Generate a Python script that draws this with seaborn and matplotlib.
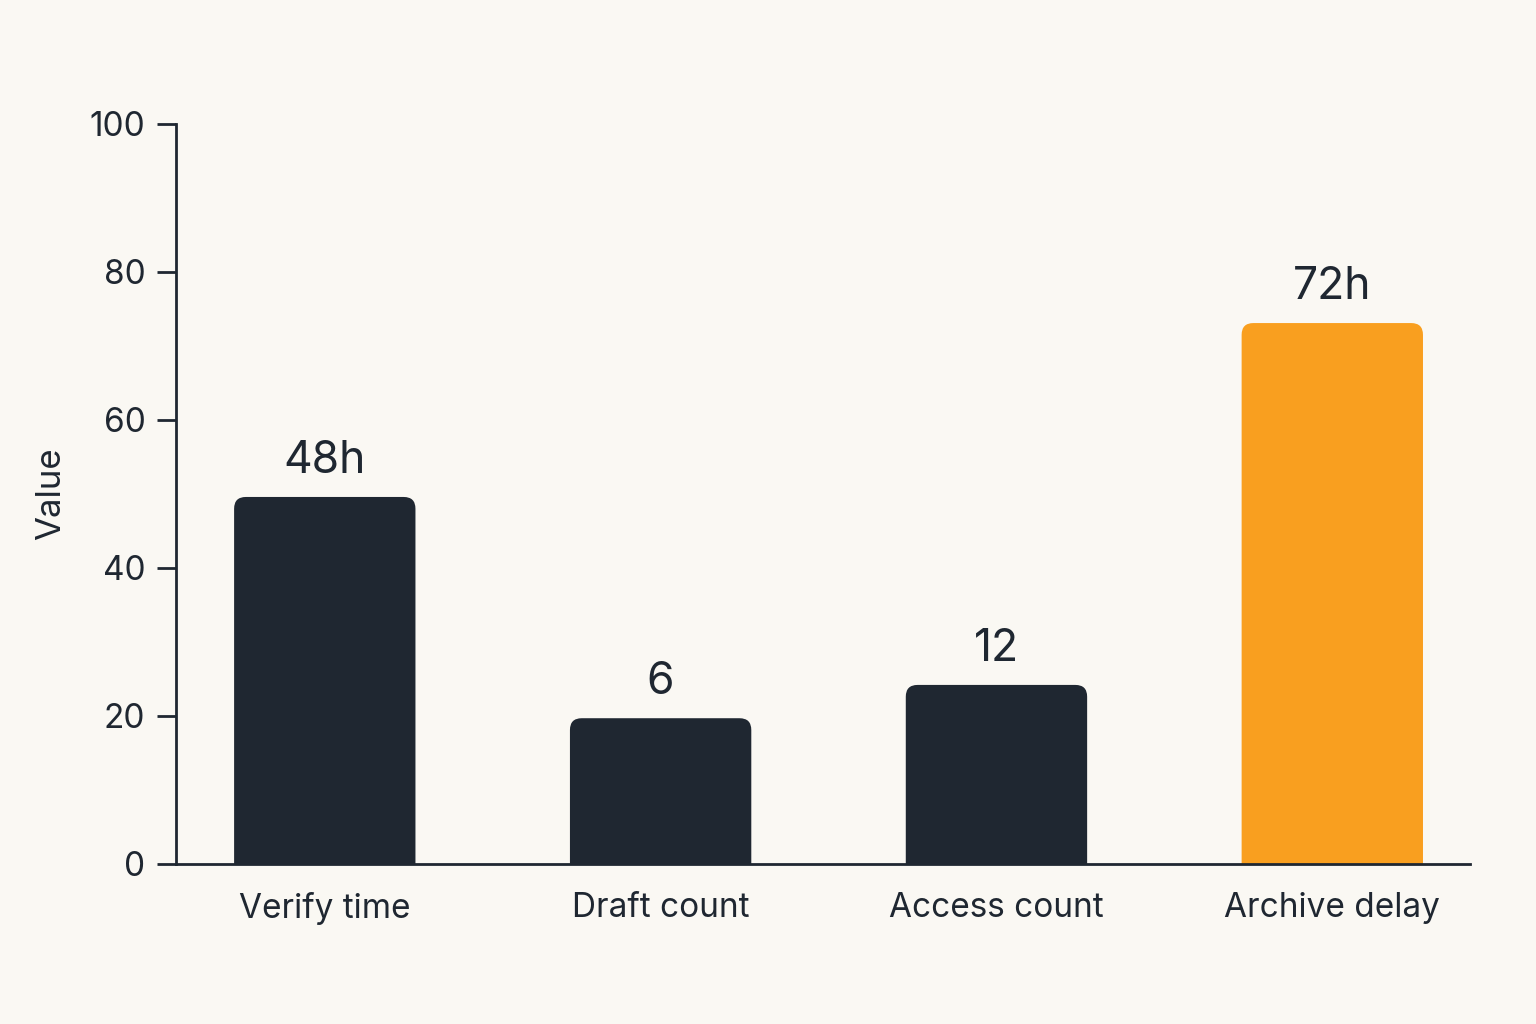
import matplotlib
matplotlib.use("Agg")
import matplotlib.pyplot as plt
import seaborn as sns
import pandas as pd
from matplotlib.patches import FancyBboxPatch

categories = ["Verify time", "Draft count", "Access count", "Archive delay"]
values = [49.6, 19.7, 24.2, 73.1]
bar_labels = ["48h", "6", "12", "72h"]
colors = ["#1F2731", "#1F2731", "#1F2731", "#F99F1F"]
y_ticks = [0, 20, 40, 60, 80, 100]

BG = "#FAF8F3"
INK = "#1F2731"

sns.set_theme(style="white")
plt.rcParams["font.family"] = ["Inter", "DejaVu Sans"]

df = pd.DataFrame({"category": categories, "value": values})

fig = plt.figure(figsize=(15.36, 10.24), dpi=100, facecolor=BG)
ax = fig.add_axes([176/1536, 160/1024, (1470-176)/1536, (864-124)/1024])
ax.set_facecolor(BG)

sns.barplot(data=df, x="category", y="value", hue="category",
            palette=colors, legend=False, width=0.54, ax=ax, saturation=1)

# rounded corners
patches = list(ax.patches)
for p, c in zip(patches, colors):
    x, y, w, h = p.get_x(), p.get_y(), p.get_width(), p.get_height()
    p.remove()
    fb = FancyBboxPatch((x, y - 5), w, h + 5,
                        boxstyle="round,pad=0,rounding_size=0.035",
                        mutation_aspect=100/3.85*1294/740,
                        facecolor=c, edgecolor="none", zorder=2)
    ax.add_patch(fb)

for i, (v, lab) in enumerate(zip(values, bar_labels)):
    ax.annotate(lab, (i, v), xytext=(0, 11), textcoords="offset points",
                ha="center", va="bottom", fontsize=32, color=INK)

ax.set_ylim(0, 100)
ax.set_xlim(-0.443, 3.41)
ax.set_yticks(y_ticks)
ax.set_xlabel("")
ax.set_ylabel("Value", fontsize=25, color=INK, labelpad=16)

for s in ["top", "right"]:
    ax.spines[s].set_visible(False)
for s in ["left", "bottom"]:
    ax.spines[s].set_color(INK)
    ax.spines[s].set_linewidth(2)
    ax.spines[s].set_zorder(3)

ax.tick_params(axis="y", length=14, width=2, color=INK, labelsize=24,
               labelcolor=INK, pad=8, left=True)
ax.tick_params(axis="x", length=0, labelsize=24, labelcolor=INK, pad=20)

fig.savefig("out.png", dpi=100, facecolor=BG)
